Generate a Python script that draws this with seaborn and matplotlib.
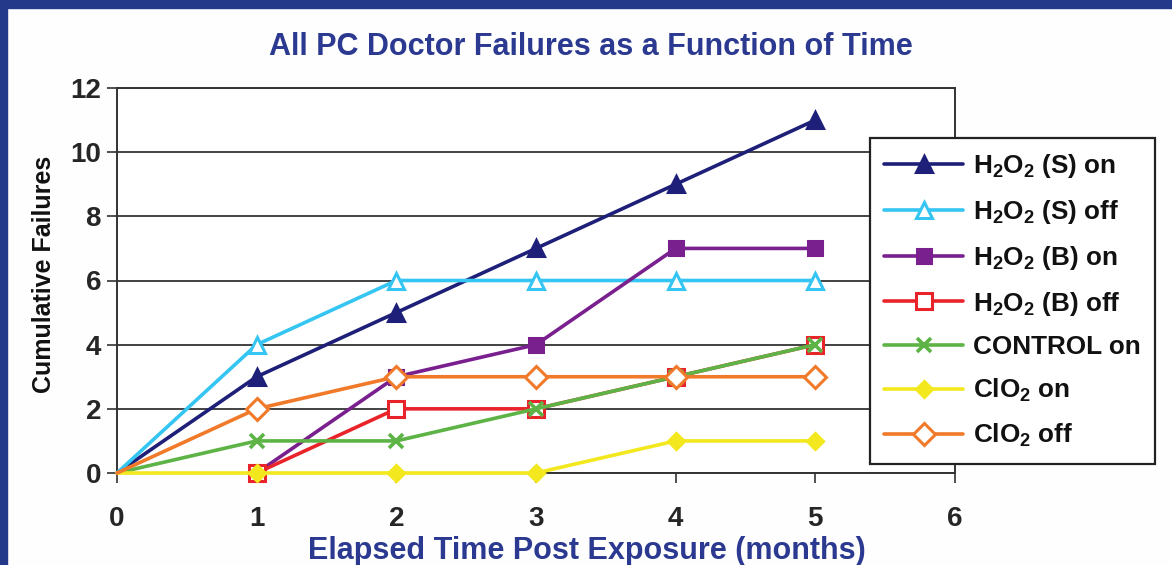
import numpy as np
import pandas as pd
import matplotlib
matplotlib.use("Agg")
import matplotlib.pyplot as plt
from matplotlib.lines import Line2D
import seaborn as sns

# ---------------- data ----------------
months = [0, 1, 2, 3, 4, 5]
h2o2_s_on = [0, 3, 5, 7, 9, 11]
h2o2_s_off = [0, 4, 6, 6, 6, 6]
h2o2_b_on = [np.nan, 0, 3, 4, 7, 7]
h2o2_b_off = [np.nan, 0, 2, 2, 3, 4]
control_on = [0, 1, 1, 2, 3, 4]
clo2_on = [0, 0, 0, 0, 1, 1]
clo2_off = [0, 2, 3, 3, 3, 3]

series_names = [
    r"H$_2$O$_2$ (S) on",
    r"H$_2$O$_2$ (S) off",
    r"H$_2$O$_2$ (B) on",
    r"H$_2$O$_2$ (B) off",
    "CONTROL on",
    r"ClO$_2$ on",
    r"ClO$_2$ off",
]
series_values = [h2o2_s_on, h2o2_s_off, h2o2_b_on, h2o2_b_off, control_on, clo2_on, clo2_off]

title = "All PC Doctor Failures as a Function of Time"
xlabel = "Elapsed Time Post Exposure (months)"
ylabel = "Cumulative Failures"
xticks = [0, 1, 2, 3, 4, 5, 6]
yticks = [0, 2, 4, 6, 8, 10, 12]

# ---------------- styles ----------------
colors = ["#1e1f78", "#35c5f2", "#7a1f8e", "#e8242a", "#5db345", "#f2e81d", "#f07a2a"]
markers = ["^", "^", "s", "s", "x", "D", "D"]
filled = [True, False, True, False, True, True, False]
msizes = [11, 11, 10, 11, 10, 8, 11]

sns.set_theme(style="white")
plt.rcParams["font.family"] = ["Liberation Sans", "DejaVu Sans"]
plt.rcParams["font.weight"] = "bold"
plt.rcParams["mathtext.fontset"] = "custom"
plt.rcParams["mathtext.rm"] = "Liberation Sans:bold"
plt.rcParams["mathtext.it"] = "Liberation Sans:bold"
plt.rcParams["mathtext.bf"] = "Liberation Sans:bold"
plt.rcParams["mathtext.default"] = "rm"

frames = []
for name, vals in zip(series_names, series_values):
    frames.append(pd.DataFrame({"month": months, "failures": vals, "series": name}))
df = pd.concat(frames, ignore_index=True)

fig = plt.figure(figsize=(11.72, 5.65), dpi=100)
fig.patch.set_facecolor("#fefefe")
ax = fig.add_axes([117 / 1172, 1 - 473 / 565, (955 - 117) / 1172, (473 - 88) / 565])
ax.set_facecolor("white")

handles = []
for name, c, m, f, ms in zip(series_names, colors, markers, filled, msizes):
    sub = df[df["series"] == name].dropna()
    # no marker at the origin point (month 0)
    mk_idx = [i for i, mo in enumerate(sub["month"].tolist()) if mo != 0]
    mew = 2.2 if m != "x" else 2.6
    sns.lineplot(
        data=sub, x="month", y="failures", ax=ax, color=c, linewidth=2.6,
        marker=m, markersize=ms, markeredgewidth=mew, markevery=mk_idx,
        markerfacecolor=(c if f else "white"), markeredgecolor=c,
        legend=False, zorder=3, clip_on=False,
    )
    handles.append(Line2D([0], [0], color=c, linewidth=2.6, marker=m, markersize=ms,
                          markeredgewidth=mew,
                          markerfacecolor=(c if f else "white"), markeredgecolor=c,
                          label=name))

ax.set_xlim(0, 6)
ax.set_ylim(0, 12)
ax.set_xticks(xticks)
ax.set_yticks(yticks)
ax.set_xticklabels([str(t) for t in xticks], fontsize=20, fontweight="bold")
ax.set_yticklabels([str(t) for t in yticks], fontsize=20, fontweight="bold")
ax.tick_params(axis="both", which="major", direction="out", length=7, width=1.2,
               color="#333333", bottom=True, left=True)
ax.tick_params(axis="x", pad=17)
ax.tick_params(axis="y", pad=4.5)
ax.yaxis.grid(True, color="#222222", linewidth=1.2)
ax.xaxis.grid(False)
ax.set_axisbelow(True)
for s in ax.spines.values():
    s.set_color("#333333")
    s.set_linewidth(1.4)

ax.set_xlabel(xlabel, fontsize=22, fontweight="bold", color="#2b3990")
ax.xaxis.set_label_coords((587 - 117) / 838, (473 - 536) / 385)
ax.set_ylabel(ylabel, fontsize=18, fontweight="bold", color="#111111")
ax.yaxis.set_label_coords((56 - 117) / 838, (473 - 274) / 385)
fig.text(591 / 1172, 1 - 47 / 565, title, ha="center", va="center", fontsize=22,
         fontweight="bold", color="#2b3990")

leg = fig.legend(handles=handles, loc="upper left",
                 bbox_to_anchor=(870 / 1172, 1 - 138 / 565),
                 frameon=True, fancybox=False, shadow=False, fontsize=18.8,
                 handlelength=3.0, handletextpad=0.38, labelspacing=0.68,
                 borderpad=0.55, borderaxespad=0)
leg.get_frame().set_edgecolor("#222222")
leg.get_frame().set_linewidth(1.6)
leg.get_frame().set_facecolor("white")
leg.get_frame().set_alpha(1)
for t in leg.get_texts():
    t.set_fontweight("bold")
    t.set_color("#111111")

# dark blue frame on the top and left edges of the picture
fig.add_artist(plt.Rectangle((0, 1 - 8 / 565), 1, 8 / 565, transform=fig.transFigure,
                             color="#24398a", zorder=10))
fig.add_artist(plt.Rectangle((0, 0), 7 / 1172, 1, transform=fig.transFigure,
                             color="#24398a", zorder=10))

fig.savefig("out.png", dpi=100, facecolor=fig.get_facecolor())
